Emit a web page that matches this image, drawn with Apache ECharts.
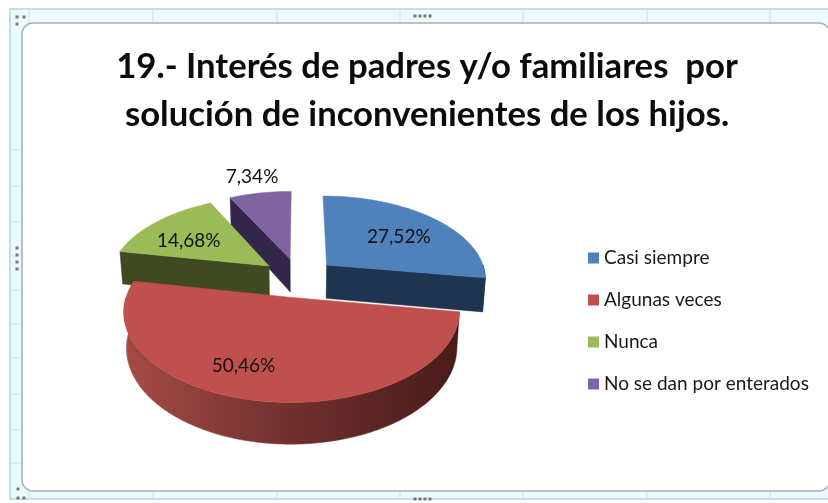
<!DOCTYPE html>
<html>
<head>
<meta charset="utf-8">
<style>html,body{margin:0;padding:0;background:#fff}#c{width:828px;height:503px}</style>
<script src="https://cdn.jsdelivr.net/npm/echarts@6/dist/echarts.min.js"></script>
</head>
<body>
<div id="c"></div>
<script>
const categories = ['Casi siempre', 'Algunas veces', 'Nunca', 'No se dan por enterados'];
const shares = [27.52, 50.46, 14.68, 7.34];
const titleLines = ['19.- Interés de padres y/o familiares  por', 'solución de inconvenientes de los hijos.'];

const topColors = ['#4F81BD', '#C0504D', '#9BBB59', '#8064A2'];
const sideColors = ['#1F344F', '#4A1D1B', '#3F4A22', '#33264A'];
const rimStops = [null, ['#A64B46', '#70302F', '#471B19'], null, null];
const layerZ = [3, 4, 2, 1];
const labelReach = 0.67;
const labelNudge = [[1, 3], [-25, -1], [-5, 4], [-18, -38]];

// projection of the tilted, exploded pie
const view = { cx: 298.5, cy: 277.5, rx: 160, ry: 82.8, persp: 0.149, depth: 34, taper: 0.985, explode: 0.236 };
const font = 'Lato, "Open Sans", sans-serif';

function project(U, V) {
  const k = 1 / (1 - view.persp * V);
  return [view.cx + view.rx * U * k, view.cy + view.ry * V * k, k];
}
function lower(p) {
  return [view.cx + (p[0] - view.cx) * view.taper, p[1] + view.depth * p[2]];
}
const total = shares.reduce((a, b) => a + b, 0);
const startAngles = [];
shares.reduce((acc, v, i) => { startAngles[i] = acc; return acc + v / total * 2 * Math.PI; }, 0);

function arc(a0, a1, ex, ey) {
  const pts = [];
  const n = Math.max(2, Math.ceil((a1 - a0) / 0.02));
  for (let j = 0; j <= n; j++) {
    const a = a0 + (a1 - a0) * j / n;
    pts.push(project(ex + Math.sin(a), ey - Math.cos(a)));
  }
  return pts;
}

function renderSlice(i) {
  return function (params, api) {
    const value = api.value(0);
    const a0 = startAngles[i];
    const a1 = a0 + value / total * 2 * Math.PI;
    const mid = (a0 + a1) / 2;
    const ex = view.explode * Math.sin(mid);
    const ey = -view.explode * Math.cos(mid);
    const apex = project(ex, ey);
    const rim = arc(a0, a1, ex, ey);
    const kids = [];
    const poly = (points, fill) => kids.push({
      type: 'polygon',
      shape: { points: points.map(p => [p[0], p[1]]) },
      style: { fill: fill, stroke: fill, lineWidth: 0.5 }
    });
    const first = rim[0], last = rim[rim.length - 1];
    if (Math.sin(a0) < -1e-3) poly([first, apex, lower(apex), lower(first)], sideColors[i]);
    if (Math.sin(a1) > 1e-3) poly([last, apex, lower(apex), lower(last)], sideColors[i]);
    const r0 = Math.max(a0, Math.PI / 2), r1 = Math.min(a1, 1.5 * Math.PI);
    if (r1 > r0) {
      const front = arc(r0, r1, ex, ey);
      let fill = sideColors[i];
      if (rimStops[i]) {
        const xs = front.map(p => p[0]);
        const stops = rimStops[i];
        fill = new echarts.graphic.LinearGradient(Math.min(...xs), 0, Math.max(...xs), 0,
          stops.map((c, s) => ({ offset: s / (stops.length - 1), color: c })), true);
      }
      poly(front.concat(front.slice().reverse().map(lower)), fill);
    }
    poly([apex].concat(rim), topColors[i]);
    const rimMid = project(ex + Math.sin(mid), ey - Math.cos(mid));
    kids.push({
      type: 'text',
      z2: 10,
      style: {
        text: value.toFixed(2).replace('.', ',') + '%',
        x: apex[0] + (rimMid[0] - apex[0]) * labelReach + labelNudge[i][0],
        y: apex[1] + (rimMid[1] - apex[1]) * labelReach + labelNudge[i][1],
        textAlign: 'center', textVerticalAlign: 'middle',
        font: '19px ' + font, fill: '#111'
      }
    });
    return { type: 'group', children: kids };
  };
}

// worksheet-style frame around the chart
const frame = [
  { type: 'rect', shape: { x: 10, y: 9, width: 830, height: 490 }, style: { fill: '#EBFAFC', stroke: '#BCCFE2', lineWidth: 1.5 }, z: -10 }
];
[29, 153, 277, 400, 523, 647, 770].forEach(x => {
  frame.push({ type: 'line', shape: { x1: x, y1: 9, x2: x, y2: 23 }, style: { stroke: '#CFDFE6', lineWidth: 1 }, z: -9 });
  frame.push({ type: 'line', shape: { x1: x, y1: 491, x2: x, y2: 499 }, style: { stroke: '#CFDFE6', lineWidth: 1 }, z: -9 });
});
[150, 186, 222, 256, 290, 324, 358, 394, 430, 463].forEach(y => {
  frame.push({ type: 'line', shape: { x1: 10, y1: y, x2: 22, y2: y }, style: { stroke: '#CFDFE6', lineWidth: 1 }, z: -9 });
});
frame.push({ type: 'rect', shape: { x: 22, y: 23, width: 808, height: 468, r: 11 }, style: { fill: '#fff', stroke: '#A9ADAF', lineWidth: 1.5 }, z: -8 });
[[415, 16], [420, 16], [425, 16], [430, 16], [415, 499], [420, 499], [425, 499], [430, 499],
 [17, 248], [17, 255], [17, 262], [17, 269], [17, 17], [24, 17], [17, 24], [18, 489], [18, 498], [24, 498]].forEach(d => {
  frame.push({ type: 'rect', shape: { x: d[0] - 1.5, y: d[1] - 1.5, width: 3, height: 3 }, style: { fill: '#77797B' }, z: -6 });
});

const chart = echarts.init(document.getElementById('c'), null, { renderer: 'canvas' });
chart.setOption({
  animation: false,
  backgroundColor: '#fff',
  graphic: { elements: frame },
  title: {
    text: titleLines.join('\n'),
    left: 422, top: 38, textAlign: 'center',
    textStyle: { fontFamily: font, fontWeight: 'bold', fontSize: 34.7, lineHeight: 48, color: '#0B0B0B' }
  },
  legend: {
    orient: 'vertical', left: 583, top: 243,
    itemWidth: 11, itemHeight: 11, itemGap: 22,
    icon: 'rect',
    data: categories,
    textStyle: { fontFamily: font, fontSize: 19, color: '#1A1A1A', height: 20, lineHeight: 20 }
  },
  series: categories.map((name, i) => ({
    type: 'custom',
    name: name,
    coordinateSystem: 'none',
    z: layerZ[i],
    itemStyle: { color: topColors[i] },
    silent: true,
    data: [[shares[i]]],
    renderItem: renderSlice(i)
  }))
});
</script>
</body>
</html>
